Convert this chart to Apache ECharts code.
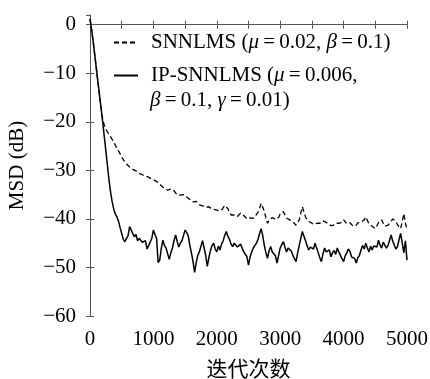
<!DOCTYPE html>
<html>
<head>
<meta charset="utf-8">
<script src="https://cdn.jsdelivr.net/npm/echarts@6/dist/echarts.min.js"></script>
<style>
  html, body { margin: 0; padding: 0; background: #fff; }
  #main { width: 430px; height: 379px; }
</style>
</head>
<body>
<div id="main"></div>
<script>
// MSD curves, every 25 iterations
var step = 25;
var snnlms = [
    1.2, -1, -3.5, -6.2, -9, -11.8, -14.5, -17, -19.5, -20.7, -21.5, -22.1, -22.6, -23.1, -23.6, -24.2, -24.8, -25.5, -26, -26.6,
    -27.2, -27.8, -28.2, -28.7, -29, -29.3, -29.5, -29.8, -30, -30.1, -30.3, -30.6, -30.8, -30.9, -31, -31.2, -31.3, -31.4, -31.6, -31.8,
    -31.9, -32.1, -32.2, -32.5, -32.8, -33.2, -33.4, -33.7, -33.9, -34.1, -34.3, -33.8, -33.7, -34.2, -34.5, -35.1, -35.5, -35.1, -34.8, -35,
    -35.1, -35.5, -35.8, -36, -36.2, -36.5, -36.8, -36.4, -36.6, -37.1, -37.5, -37.3, -37.2, -37.6, -37.8, -37.5, -37.6, -38, -38.2, -38.1,
    -38, -38.3, -38.4, -38.2, -38.1, -37.2, -36.8, -37.9, -38.6, -39.2, -39.6, -39.2, -39, -39.5, -39.3, -38.8, -38.9, -39.3, -39.6, -40,
    -40.2, -39.8, -40.2, -39.9, -39.5, -39.1, -38.6, -37.8, -36.8, -37.6, -38.5, -39.8, -40.9, -40.3, -40, -39.7, -39.6, -40.1, -40.4, -39.7,
    -39, -38.6, -38.5, -39.2, -39.8, -40.1, -40.2, -40.4, -40.6, -41, -41.3, -40.8, -40.2, -38.8, -37.5, -38.6, -39.6, -40.2, -40.5, -40.7,
    -40.8, -41.1, -41.3, -40.9, -40.5, -40.9, -40.8, -40.4, -40.2, -40.7, -41, -41.3, -41.6, -41.4, -41.3, -40.9, -40.6, -40.9, -41.2, -40.7,
    -40.2, -40.6, -41, -40.7, -40.8, -41.2, -41.5, -41.2, -41.3, -40.8, -40.5, -40.7, -40.8, -40.2, -39.6, -40.3, -41, -41.3, -41.5, -41.7,
    -42, -41.4, -40.8, -40.4, -40.2, -40.9, -41.5, -41.2, -41.3, -40.9, -40.5, -40, -39.6, -40.5, -41.2, -41.6, -42, -40.5, -38.9, -40.8,
    -42.3
];
var ipSnnlms = [
    1.2, -1, -3.5, -6.2, -9, -11.8, -14.5, -17.2, -20, -23, -26, -29, -32, -34.5, -36.5, -38, -39, -39.6, -40.5, -41.8,
    -43, -44.2, -44.7, -44, -43.5, -41.6, -41.8, -43, -43.7, -43.2, -44.5, -44, -43.6, -44.8, -45.2, -44.5, -46.2, -45.5, -45.3, -44,
    -42.3, -43.2, -44, -49, -48.5, -46, -44.4, -45.5, -46, -47.2, -48.3, -47, -46, -44.5, -43.3, -44.6, -45.8, -45, -44.5, -43.4,
    -42.3, -42.8, -43.5, -45.5, -47, -48.8, -51, -49, -47.5, -46.8, -46.4, -44.5, -44.8, -47.5, -49.8, -48, -46.5, -45.5, -45, -46.2,
    -46.8, -45.6, -46.4, -45.2, -44.5, -43.4, -42.6, -43.6, -44.2, -45.2, -45.7, -45, -44.8, -45.8, -46.2, -45.2, -45.5, -46.8, -46.4, -47.8,
    -49.5, -47.8, -46.8, -46, -45.5, -45, -44.2, -43, -42, -43.5, -45.5, -47, -48.1, -46.5, -45.7, -46.8, -46.5, -47.6, -49.1, -47.5,
    -46, -45.3, -44.7, -45.8, -46.8, -46, -45.7, -46.6, -47.5, -48.2, -48.8, -47, -45.5, -44, -42.6, -43.6, -44.5, -45.6, -46.4, -45.8,
    -45.5, -46.2, -45, -46, -47, -48, -48.8, -47.2, -46, -46.8, -47, -46.4, -47.8, -47, -46.5, -47.3, -46, -46.8, -47.5, -48.2,
    -48.8, -47.6, -47, -46.2, -46.7, -47.8, -47.5, -48.2, -49.1, -48, -47.5, -46.4, -45.5, -46.2, -45, -46, -46.8, -45.6, -46.4, -45.6,
    -45.2, -45.8, -44.4, -45.4, -46, -44.8, -45, -46, -45.5, -44.4, -43.3, -44.6, -45, -46.2, -45.7, -44.2, -43, -45, -47, -44.5,
    -48.5
];
var names = ['SNNLMS', 'IP-SNNLMS'];

function pairs(vals) {
    return vals.map(function (v, i) { return [i * step, v]; });
}
function minus(v) {
    return v < 0 ? '\u2212' + Math.abs(v) : String(v);
}

var serif = "'Liberation Serif', 'DejaVu Serif', serif";
var axisColor = '#555';
var eq = '\u2009=\u2009';

var chart = echarts.init(document.getElementById('main'), null, {renderer: 'canvas'});

var tickStyle = {show: true, inside: true, length: 4, lineStyle: {color: axisColor}};
var lineStyleAx = {show: true, lineStyle: {color: axisColor, width: 1}};
var richText = {
    t: {fontFamily: serif, fontSize: 21, color: '#000'},
    i: {fontFamily: serif, fontSize: 21, fontStyle: 'italic', color: '#000'}
};

var option = {
    animation: false,
    backgroundColor: '#fff',
    grid: {left: 90, right: 23, top: 15, bottom: 63, containLabel: false, outerBoundsMode: 'none'},
    legend: {
        orient: 'vertical',
        left: 108,
        top: 27,
        itemWidth: 24,
        itemHeight: 12,
        itemGap: 12,
        data: names,
        itemStyle: {opacity: 0},
        textStyle: {color: '#000', padding: [0, 0, 0, 8], rich: richText},
        formatter: function (name) {
            if (name === 'SNNLMS') {
                return '{t|SNNLMS (}{i|\u03bc}{t|' + eq + '0.02, }{i|\u03b2}{t|' + eq + '0.1)}';
            }
            return '{t|IP-SNNLMS (}{i|\u03bc}{t|' + eq + '0.006,}';
        }
    },
    graphic: [{
        type: 'text',
        left: 150,
        top: 90,
        style: {
            rich: {
                t: {fontFamily: serif, fontSize: 21, fill: '#000'},
                i: {fontFamily: serif, fontSize: 21, fontStyle: 'italic', fill: '#000'}
            },
            text: '{i|\u03b2}{t|' + eq + '0.1, }{i|\u03b3}{t|' + eq + '0.01)}'
        }
    }],
    xAxis: [{
        type: 'value',
        min: 0,
        max: 5000,
        interval: 500,
        position: 'bottom',
        name: '迭代次数',
        nameLocation: 'middle',
        nameGap: 42,
        nameTextStyle: {fontFamily: "'Noto Sans CJK SC', sans-serif", fontSize: 21, color: '#000'},
        axisLine: lineStyleAx,
        axisTick: tickStyle,
        splitLine: {show: false},
        axisLabel: {
            fontFamily: serif, fontSize: 21, color: '#000', margin: 13,
            formatter: function (v) { return v % 1000 === 0 ? String(v) : ''; }
        }
    }, {
        type: 'value',
        min: 0,
        max: 5000,
        interval: 500,
        position: 'top',
        axisLine: lineStyleAx,
        axisTick: tickStyle,
        splitLine: {show: false},
        axisLabel: {show: false}
    }],
    yAxis: [{
        type: 'value',
        min: -60,
        max: 2,
        interval: 10,
        position: 'left',
        name: 'MSD (dB)',
        nameLocation: 'middle',
        nameGap: 62,
        nameTextStyle: {fontFamily: serif, fontSize: 21, color: '#000'},
        axisLine: lineStyleAx,
        axisTick: tickStyle,
        splitLine: {show: false},
        axisLabel: {
            fontFamily: serif, fontSize: 21, color: '#000', margin: 14,
            showMaxLabel: false,
            formatter: function (v) { return v % 10 === 0 ? minus(v) : ''; }
        }
    }, {
        type: 'value',
        min: -60,
        max: 2,
        interval: 10,
        position: 'right',
        axisLine: lineStyleAx,
        axisTick: tickStyle,
        splitLine: {show: false},
        axisLabel: {show: false}
    }],
    series: [{
        name: names[0],
        type: 'line',
        data: pairs(snnlms),
        symbol: 'none',
        itemStyle: {color: '#000'},
        lineStyle: {color: '#000', width: 1.3, type: [5, 3]}
    }, {
        name: names[1],
        type: 'line',
        data: pairs(ipSnnlms),
        symbol: 'none',
        itemStyle: {color: '#000'},
        lineStyle: {color: '#000', width: 1.5}
    }]
};
chart.setOption(option);
</script>
</body>
</html>
